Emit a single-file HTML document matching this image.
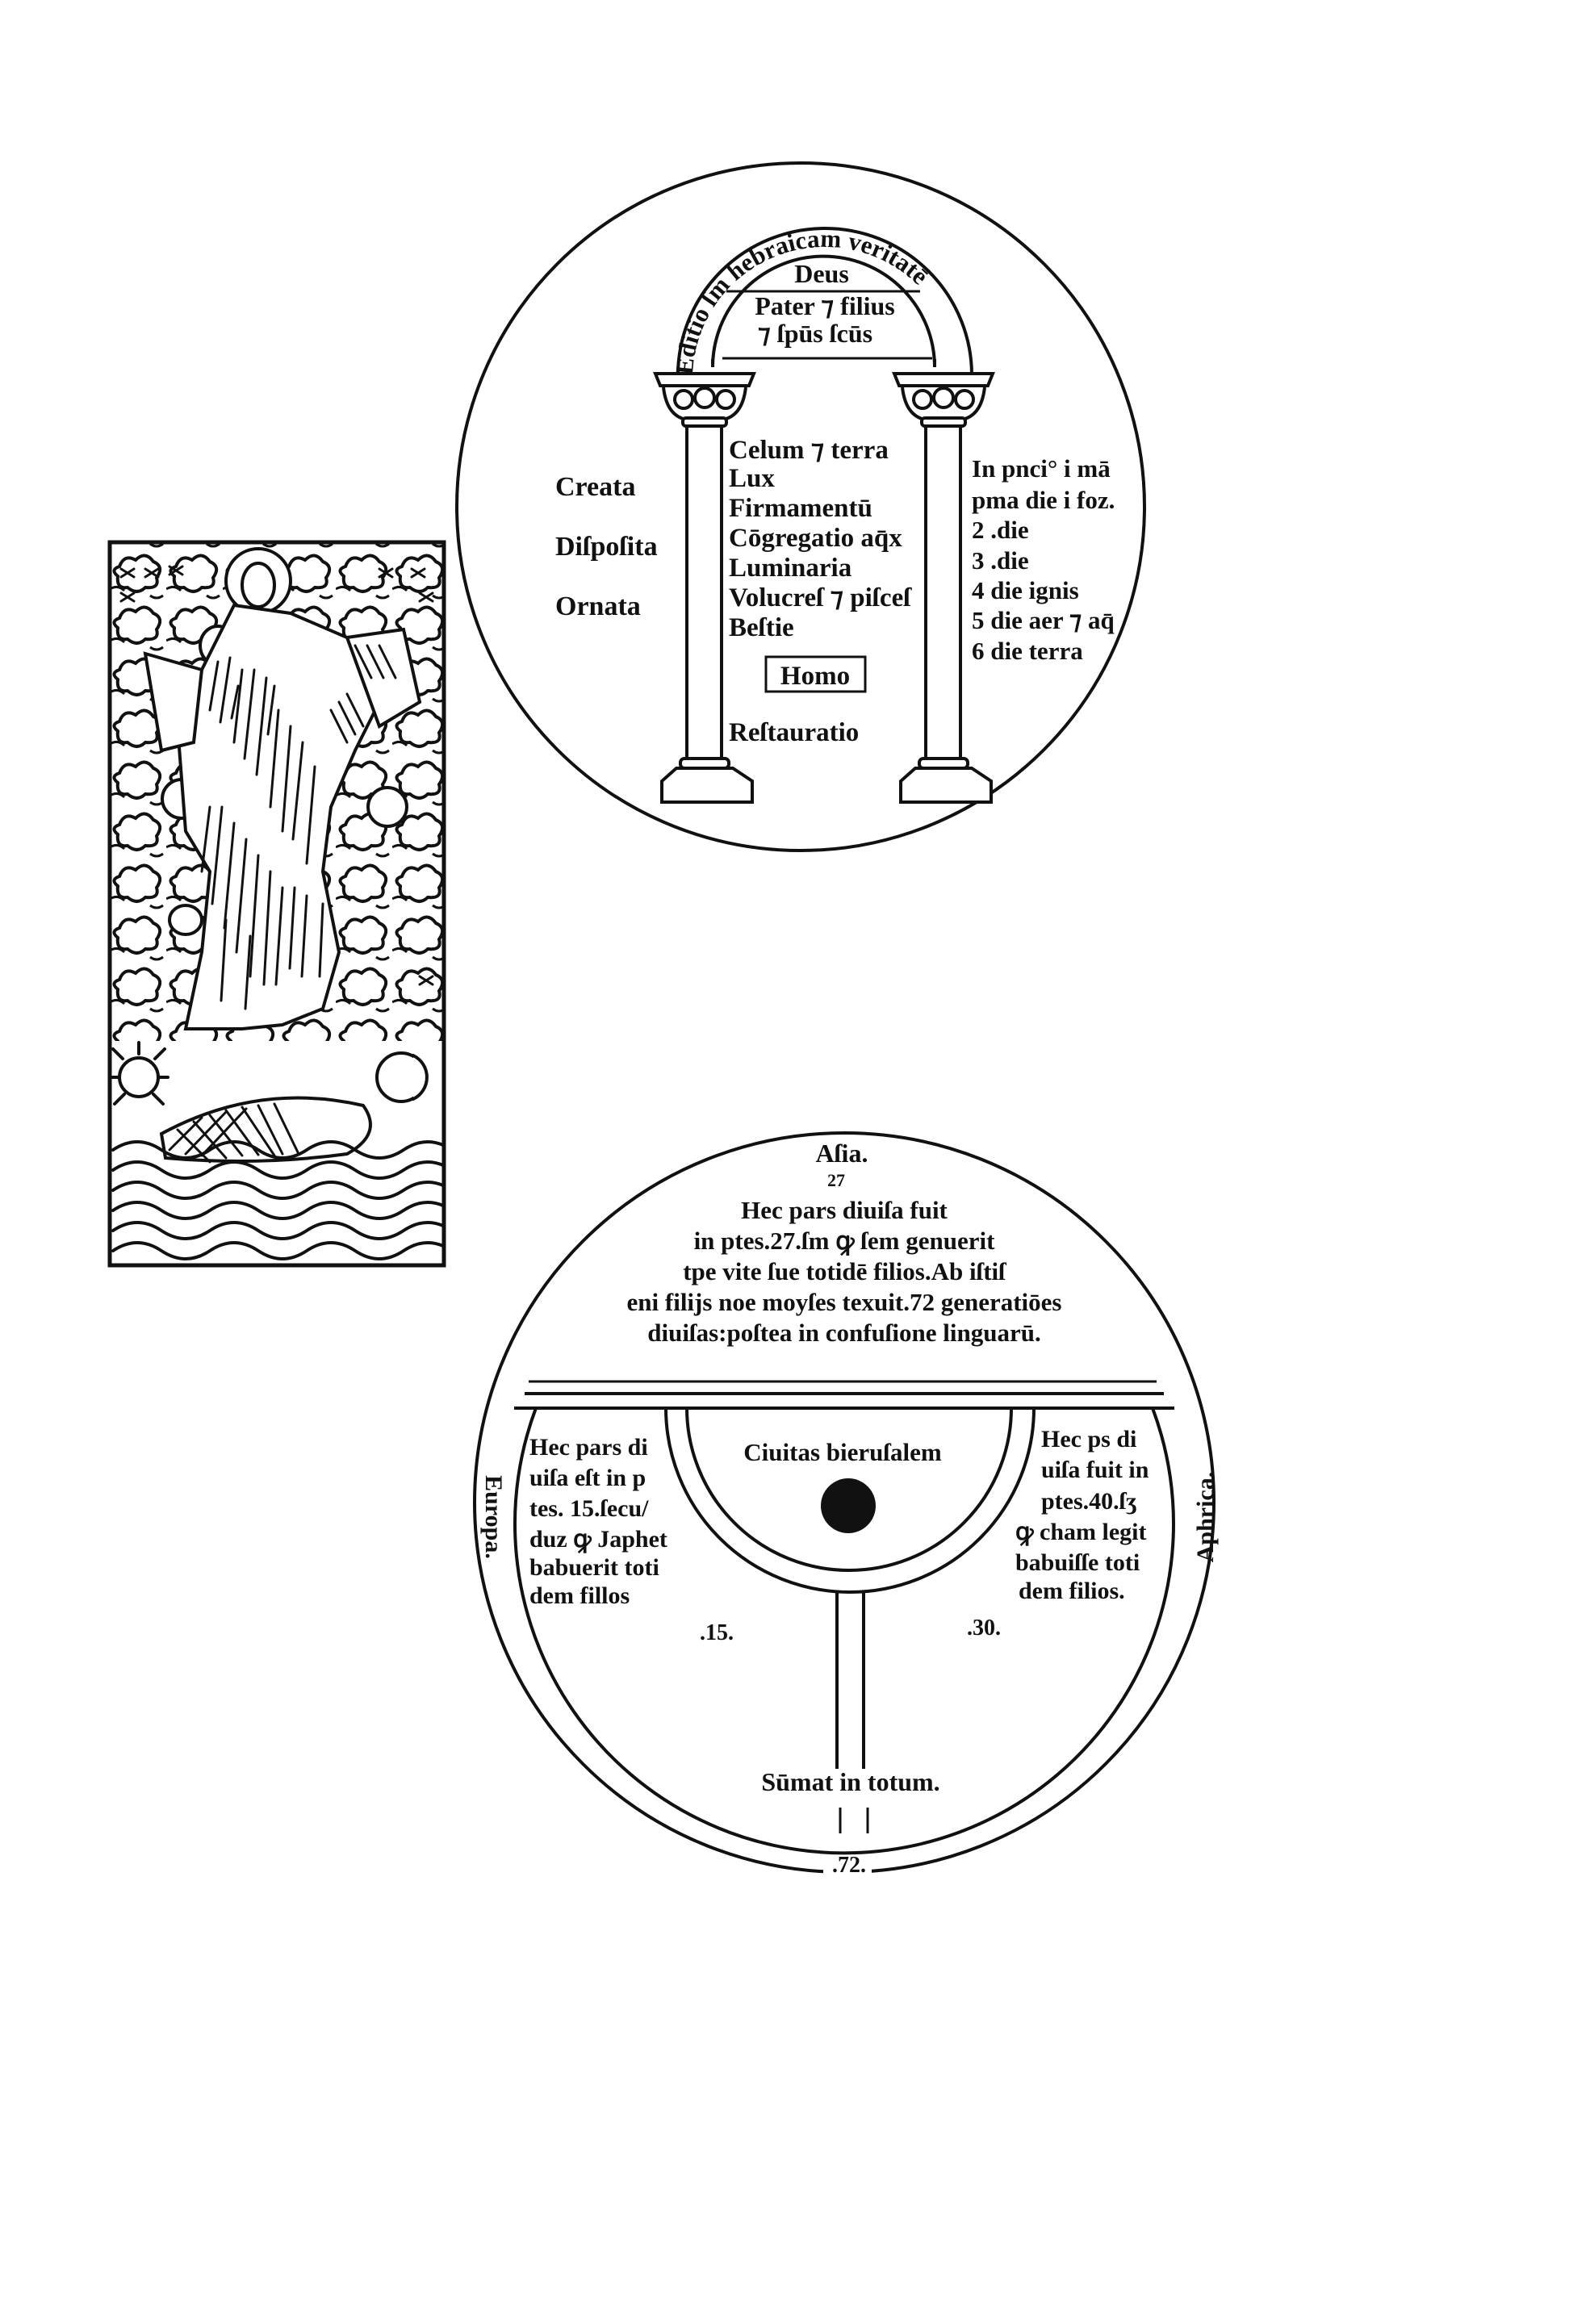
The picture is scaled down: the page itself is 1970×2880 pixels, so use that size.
<!DOCTYPE html>
<html><head><meta charset="utf-8">
<style>
html,body{margin:0;padding:0;background:#fff;}
svg{display:block;}
text{font-family:"Liberation Serif","DejaVu Serif",serif;font-weight:bold;fill:#111;}
</style></head>
<body>
<svg width="1970" height="2880" viewBox="0 0 1970 2880" xmlns="http://www.w3.org/2000/svg">
<defs>
  <pattern id="cl" x="136" y="672" width="70" height="64" patternUnits="userSpaceOnUse">
    <path d="M12 30 q6-16 20-8 q12-12 22 2 q14 6 4 20 q4 14-14 12 q-10 10-22 0 q-14 2-12-14 q-10-8 2-12z" fill="none" stroke="#111" stroke-width="4"/>
    <path d="M50 2 q8 6 16 0 M0 58 q10-6 18 2" fill="none" stroke="#111" stroke-width="3"/>
  </pattern>
  <clipPath id="wc"><rect x="136" y="672" width="414" height="896"/></clipPath>
  <path id="archtxt" d="M858 470 A164 164 0 0 1 1186 470"/>
</defs>
<rect width="1970" height="2880" fill="#fff"/>

<!-- ============ TOP CIRCLE ============ -->
<g fill="none" stroke="#111" stroke-width="4">
  <circle cx="992" cy="628" r="426"/>
  <path d="M840 470 L840 465 A182 182 0 0 1 1204 465 L1204 472"/>
  <path d="M883 445 L883 455 A137 137 0 0 1 1158 455 L1158 445"/>
  <line x1="900" y1="361" x2="1140" y2="361" stroke-width="3"/>
  <line x1="895" y1="444" x2="1155" y2="444" stroke-width="3"/>
</g>
<text font-size="31"><textPath href="#archtxt" startOffset="1%">Editio ſm hebraicam veritatē</textPath></text>
<text x="1018" y="350" font-size="32" text-anchor="middle">Deus</text>
<text x="1022" y="390" font-size="32" text-anchor="middle">Pater ⁊ filius</text>
<text x="1010" y="424" font-size="32" text-anchor="middle">⁊ ſpūs ſcūs</text>

<g id="col" fill="#fff" stroke="#111" stroke-width="4">
  <path d="M812 463 L934 463 L928 478 L818 478 Z"/>
  <path d="M822 480 Q826 515 850 520 L896 520 Q920 515 924 480"/>
  <circle cx="847" cy="495" r="11"/><circle cx="873" cy="493" r="12"/><circle cx="899" cy="495" r="11"/>
  <rect x="846" y="518" width="54" height="10" rx="4"/>
  <rect x="851" y="528" width="43" height="412"/>
  <rect x="843" y="940" width="60" height="12" rx="5"/>
  <path d="M838 952 L908 952 L932 968 L932 994 L820 994 L820 968 Z"/>
</g>
<use href="#col" transform="translate(296,0)"/>

<text x="688" y="614" font-size="34">Creata</text>
<text x="688" y="688" font-size="34">Diſpoſita</text>
<text x="688" y="762" font-size="34">Ornata</text>

<g font-size="33">
<text x="903" y="568">Celum ⁊ terra</text>
<text x="903" y="603">Lux</text>
<text x="903" y="640">Firmamentū</text>
<text x="903" y="677">Cōgregatio aq̄x</text>
<text x="903" y="714">Luminaria</text>
<text x="903" y="751">Volucreſ ⁊ piſceſ</text>
<text x="903" y="788">Beſtie</text>
<text x="903" y="918">Reſtauratio</text>
</g>
<rect x="949" y="814" width="123" height="43" fill="none" stroke="#111" stroke-width="3"/>
<text x="1010" y="848" font-size="33" text-anchor="middle">Homo</text>

<g font-size="31">
<text x="1204" y="591">In pnci° i mā</text>
<text x="1204" y="630">pma die i foz.</text>
<text x="1204" y="667">2  .die</text>
<text x="1204" y="705">3  .die</text>
<text x="1204" y="742">4  die ignis</text>
<text x="1204" y="779">5  die aer ⁊ aq̄</text>
<text x="1204" y="817">6  die terra</text>
</g>

<!-- ============ WOODCUT ============ -->
<g clip-path="url(#wc)">
<rect x="136" y="672" width="414" height="740" fill="url(#cl)"/>
<g stroke="#111" fill="#fff" stroke-width="4" stroke-linecap="round">
  <circle cx="320" cy="720" r="40"/>
  <ellipse cx="320" cy="725" rx="20" ry="27"/>
  <ellipse cx="270" cy="800" rx="22" ry="24"/>
  <ellipse cx="440" cy="810" rx="20" ry="20"/>
  <ellipse cx="225" cy="990" rx="24" ry="24"/>
  <ellipse cx="480" cy="1000" rx="24" ry="24"/>
  <ellipse cx="230" cy="1140" rx="20" ry="18"/>
  <path d="M290 750 L250 830 L220 900 L230 1030 L260 1080 L250 1180 L230 1275 L300 1275 L350 1270 L400 1250 L420 1180 L400 1080 L410 1000 L440 930 L470 870 L430 790 L360 760 Z"/>
  <path d="M430 790 L500 780 L520 870 L470 900 Z"/>
  <path d="M250 830 L180 810 L200 930 L240 920 Z"/>
</g>
<g stroke="#111" fill="none" stroke-width="3" stroke-linecap="round">
  <path d="M270 820 l-10 60 M285 815 l-12 80 M300 830 l-10 90 M315 830 l-12 110 M330 840 l-12 120 M345 880 l-10 120 M360 900 l-10 130 M375 920 l-12 120 M390 950 l-10 120 M260 1000 l-10 80 M275 1000 l-12 120 M290 1020 l-12 130 M305 1040 l-12 140 M320 1060 l-10 150 M335 1080 l-8 140 M350 1100 l-8 120 M365 1100 l-6 100 M380 1110 l-6 100 M400 1120 l-4 90 M410 880 l20 40 M420 870 l20 40 M430 860 l20 40 M440 800 l20 40 M455 800 l20 40 M470 800 l20 40 M295 850 l-8 40 M340 850 l-8 60 M280 1140 l-6 100 M310 1160 l-6 90"/>
  <path d="M150 705 l16 10 m-16 0 l16-10 M180 705 l16 10 m-16 0 l16-10 M210 702 l16 10 m-16 0 l16-10 M150 735 l16 10 m-16 0 l16-10 M470 705 l16 10 m-16 0 l16-10 M510 705 l16 10 m-16 0 l16-10 M520 735 l16 10 m-16 0 l16-10 M520 1210 l16 10 m-16 0 l16-10 M430 1320 l16 10 m-16 0 l16-10"/>
</g>
<g stroke="#111" fill="#fff" stroke-width="4" stroke-linecap="round">
  <rect x="138" y="1290" width="410" height="276" stroke="none"/>
  <circle cx="172" cy="1335" r="24"/>
  <path d="M140 1300 l12 12 M172 1292 l0 14 M204 1300 l-12 12 M136 1335 l12 0 M208 1335 l-12 0 M142 1368 l12-12 M202 1368 l-12-12"/>
  <circle cx="497" cy="1335" r="30"/>
  <path d="M512 1308 a30 30 0 0 1 0 54"/>
  <path d="M200 1405 Q320 1340 450 1370 Q475 1405 430 1430 Q320 1445 205 1435 Z"/>
</g>
<g stroke="#111" fill="none" stroke-width="4" stroke-linecap="round">
  <path d="M220 1400 l40 40 M240 1390 l40 45 M260 1382 l40 50 M280 1376 l40 55 M300 1372 l40 60 M210 1425 l40-40 M230 1430 l50-52 M250 1432 l55-58 M320 1370 l30 60 M340 1368 l30 62" stroke-width="3"/>
  <path d="M140 1425 q30-20 60 0 t60 0 t60 0 t60 0 t60 0 t60 0 t60 0"/>
  <path d="M140 1450 q30-20 60 0 t60 0 t60 0 t60 0 t60 0 t60 0 t60 0"/>
  <path d="M140 1475 q30-20 60 0 t60 0 t60 0 t60 0 t60 0 t60 0 t60 0"/>
  <path d="M140 1500 q30-20 60 0 t60 0 t60 0 t60 0 t60 0 t60 0 t60 0"/>
  <path d="M140 1525 q30-20 60 0 t60 0 t60 0 t60 0 t60 0 t60 0 t60 0"/>
  <path d="M140 1550 q30-20 60 0 t60 0 t60 0 t60 0 t60 0 t60 0 t60 0"/>
</g>
</g>
<rect x="136" y="672" width="414" height="896" fill="none" stroke="#111" stroke-width="5"/>

<!-- ============ BOTTOM CIRCLE ============ -->
<g fill="none" stroke="#111" stroke-width="4">
  <circle cx="1046" cy="1862" r="458"/>
  <path d="M664 1745 A408 408 0 1 0 1428 1745"/>
  <line x1="655" y1="1712" x2="1433" y2="1712" stroke-width="3"/>
  <line x1="650" y1="1727" x2="1442" y2="1727"/>
  <line x1="637" y1="1745" x2="1455" y2="1745"/>
  <path d="M825 1745 A228 228 0 0 0 1281 1745"/>
  <path d="M851 1745 A201 201 0 0 0 1253 1745"/>
  <line x1="1037" y1="1973" x2="1037" y2="2192"/>
  <line x1="1070" y1="1973" x2="1070" y2="2192"/>
  <line x1="1041" y1="2240" x2="1041" y2="2272" stroke-width="3"/>
  <line x1="1075" y1="2240" x2="1075" y2="2272" stroke-width="3"/>
</g>
<circle cx="1051" cy="1866" r="34" fill="#111"/>
<rect x="1020" y="1422" width="50" height="18" fill="#fff"/>
<rect x="1020" y="2300" width="60" height="22" fill="#fff"/>

<text x="1043" y="1440" font-size="32" text-anchor="middle">Aſia.</text>
<text x="1036" y="1470" font-size="22" text-anchor="middle">27</text>
<g font-size="31" text-anchor="middle">
<text x="1046" y="1510">Hec pars diuiſa fuit</text>
<text x="1046" y="1548">in ptes.27.ſm ꝙ ſem genuerit</text>
<text x="1046" y="1586">tpe vite ſue totidē filios.Ab iſtiſ</text>
<text x="1046" y="1624">eni filijs noe moyſes texuit.72 generatiōes</text>
<text x="1046" y="1662">diuiſas:poſtea in confuſione linguarū.</text>
</g>
<text x="1044" y="1810" font-size="31" text-anchor="middle">Ciuitas bieruſalem</text>
<g font-size="30">
<text x="656" y="1803">Hec pars di</text>
<text x="656" y="1841">uiſa eſt in p</text>
<text x="656" y="1879">tes. 15.ſecu/</text>
<text x="656" y="1917">duz ꝙ Japhet</text>
<text x="656" y="1952">babuerit toti</text>
<text x="656" y="1987">dem fillos</text>
</g>
<g font-size="30">
<text x="1290" y="1793">Hec ps di</text>
<text x="1290" y="1831">uiſa fuit in</text>
<text x="1290" y="1870">ptes.40.ſʒ</text>
<text x="1258" y="1908">ꝙ cham legit</text>
<text x="1258" y="1946">babuiſſe toti</text>
<text x="1262" y="1981">dem filios.</text>
</g>
<text x="888" y="2032" font-size="28" text-anchor="middle">.15.</text>
<text x="1219" y="2026" font-size="28" text-anchor="middle">.30.</text>
<text x="1054" y="2219" font-size="32" text-anchor="middle">Sūmat in totum.</text>
<text x="1052" y="2320" font-size="28" text-anchor="middle">.72.</text>
<text transform="translate(602,1880) rotate(90)" font-size="30" text-anchor="middle">Europa.</text>
<text transform="translate(1503,1880) rotate(-90)" font-size="30" text-anchor="middle">Aphrica.</text>
</svg>
</body></html>
